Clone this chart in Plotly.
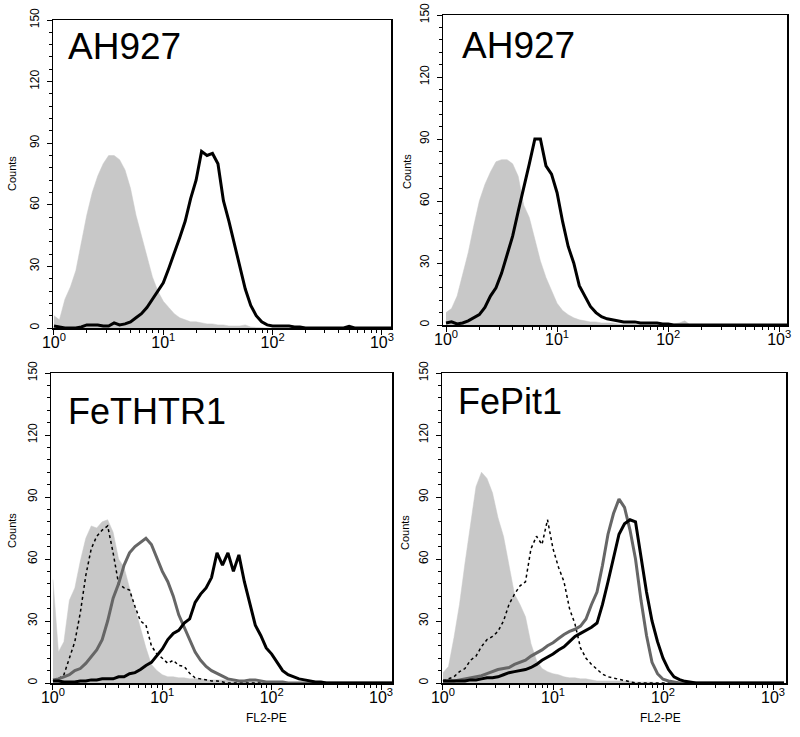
import plotly.graph_objects as go

# ---------------- data (log10 fluorescence channel vs. counts) ----------------
log_channel = [0.00, 0.05, 0.10, 0.15, 0.20, 0.25, 0.30, 0.35, 0.40, 0.45,
               0.50, 0.55, 0.60, 0.65, 0.70, 0.75, 0.80, 0.85, 0.90, 0.95,
               1.00, 1.05, 1.10, 1.15, 1.20, 1.25, 1.30, 1.35, 1.40, 1.45,
               1.50, 1.55, 1.60, 1.65, 1.70, 1.75, 1.80, 1.85, 1.90, 1.95,
               2.00, 2.05, 2.10, 2.15, 2.20, 2.25, 2.30, 2.35, 2.40, 2.45,
               2.50, 2.55, 2.60, 2.65, 2.70, 2.75, 2.80, 2.85, 2.90, 2.95,
               3.00, 3.05, 3.10]

# Panel 1: AH927
p1_control = [6, 4, 14, 20, 28, 42, 55, 66, 74, 80, 84, 84, 82, 77, 68, 55, 45, 34, 25, 18,
              13, 10, 7, 5, 4, 3, 3, 2.5, 2, 2, 1.5, 1.5, 1, 1, 1, 1.5, 0.5, 0.3, 0, 0,
              0, 0, 0, 0, 0, 0, 0, 0, 0, 0, 0, 0, 0, 0, 0, 0, 0, 0, 0, 0, 0, 0, 0]
p1_stained = [1, 0.5, 0, 0, 0, 0.5, 1.5, 1.5, 1.5, 1, 1, 2.5, 1.5, 2, 3, 5, 7, 10, 14, 18,
              22, 29, 36, 44, 52, 63, 72, 86, 84, 85, 80, 62, 52, 41, 30, 19, 11, 6, 3, 1.5,
              1, 1, 1, 1, 0.5, 0.5, 0, 0, 0, 0, 0, 0, 0, 0, 0.8, 0, 0, 0, 0, 0, 0, 0, 0]

# Panel 2: AH927
p2_control = [6, 8, 14, 24, 35, 48, 60, 68, 74, 79, 80, 80, 78, 72, 58, 52, 41, 31, 23, 17,
              10.5, 7, 5, 3.5, 2.5, 2, 1.5, 1.5, 1, 1, 1, 0.5, 0.5, 0.5, 0.5, 0.5, 0.5, 0.5, 0.5, 0.5,
              0.5, 0.5, 1, 2, 0, 0, 0, 0, 0, 0, 0, 0, 0, 0, 0, 0, 0, 0, 0, 0, 0, 0, 0]
p2_stained = [1, 1.5, 0.5, 1, 2, 3.5, 5, 8.5, 14, 18, 25, 34, 43, 55, 66, 78, 90, 90, 77, 73,
              64, 50, 38, 30, 19, 14, 9, 6, 4, 3, 2.5, 2, 1.5, 1.5, 1.5, 1, 1, 1, 1, 0.5,
              0.5, 0, 0, 0, 0, 0, 0, 0, 0, 0, 0, 0, 0, 0, 0, 0, 0, 0, 0, 0, 0, 0, 0]

# Panel 3: FeTHTR1
p3_control = [50, 15, 20, 40, 46, 59, 70, 76, 75, 78, 79, 73, 60, 56, 46, 36, 26, 17, 9, 6,
              4, 3, 3, 2.5, 2.5, 2, 2, 2, 1.5, 1.5, 1.5, 1.5, 1.5, 1, 1, 1, 1, 0.5, 0.5, 0.5,
              0, 0, 0, 0, 0, 0, 0, 0, 0, 0, 0, 0, 0, 0, 0, 0, 0, 0, 0, 0, 0, 0, 0]
p3_dotted = [1, 2, 4, 12, 20, 34, 52, 65, 71, 74, 76, 63, 48, 46, 45, 37, 30, 28, 18, 14,
             12, 9.5, 11, 8.5, 8, 4.7, 2.5, 2, 1.5, 1, 1, 0.5, 0, 0, 0, 0, 0, 0, 0, 0,
             0, 0, 0, 0, 0, 0, 0, 0, 0, 0, 0, 0, 0, 0, 0, 0, 0, 0, 0, 0, 0, 0, 0]
p3_darkgray = [1.5, 2, 3, 4, 6, 7, 9.5, 13, 16, 21, 30, 41, 48, 57, 63, 66, 68, 70, 67, 60,
               54, 49, 42, 33, 27, 21, 15, 11, 8, 6, 4.7, 3.1, 2, 1.5, 1, 1, 1.5, 1.5, 1, 0.5,
               0.5, 0.5, 0.5, 0, 0, 0, 0, 0, 0, 0, 0, 0, 0, 0, 0, 0, 0, 0, 0, 0, 0, 0, 0]
p3_black = [1, 1, 0.5, 0.5, 0.5, 1, 1, 1.5, 1.5, 2, 2, 2, 3, 3, 4.5, 5, 6.5, 8.5, 10, 13,
            16.5, 21, 24, 25.5, 29, 31, 39, 43, 46, 51, 63, 57, 63, 54, 62, 49, 38, 28, 23, 17,
            14, 10, 6, 4, 3, 2, 1.5, 1, 0.5, 0.5, 0, 0, 0, 0, 0, 0, 0, 0, 0, 0, 0, 0, 0]

# Panel 4: FePit1
p4_control = [5, 8, 22, 38, 58, 77, 95, 102, 99, 92, 80, 71, 56, 43, 38, 32, 19, 11, 7, 5.5,
              4.5, 4, 3, 2.5, 2.5, 2, 2, 1.5, 1, 1, 1, 1, 1, 1, 1, 0.5, 0.5, 0.5, 0.5, 0,
              0, 0, 0, 0, 0, 0, 0, 0, 0, 0, 0, 0, 0, 0, 0, 0, 0, 0, 0, 0, 0, 0, 0]
p4_dotted = [1, 2, 3, 5.5, 7, 11, 13, 17.6, 21, 22.5, 25, 30, 38, 43, 47, 49, 65, 71, 67, 79,
             65, 56, 49, 36, 28.5, 17, 12, 9, 6.4, 4.3, 3, 2.4, 1.8, 1.2, 0.5, 0, 0, 0, 0, 0,
             0, 0, 0, 0, 0, 0, 0, 0, 0, 0, 0, 0, 0, 0, 0, 0, 0, 0, 0, 0, 0, 0, 0]
p4_darkgray = [1, 1, 1, 1.5, 2, 2.5, 3, 3.5, 4.5, 5.5, 6.5, 7, 7.5, 9, 10, 11, 13, 14.5, 16, 18,
               19.5, 21.5, 23.5, 25, 26, 27.5, 31, 38, 44, 57, 72, 82, 89, 85, 74, 60, 40, 23, 10, 4.5,
               1.8, 1, 0.5, 0, 0, 0, 0, 0, 0, 0, 0, 0, 0, 0, 0, 0, 0, 0, 0, 0, 0, 0, 0]
p4_black = [1, 1, 1, 1, 1, 1.5, 1.5, 2, 2.5, 2.5, 3, 4, 5, 5.5, 6, 6.5, 7.5, 9, 11, 12.5,
            14, 16, 17.5, 20, 22.5, 24, 25.5, 27, 29, 38, 49, 61, 72, 77, 79, 78, 61, 44, 30, 20,
            12, 6.5, 3, 1.6, 0.8, 0.3, 0, 0, 0, 0, 0, 0, 0, 0, 0, 0, 0, 0, 0, 0, 0, 0, 0]

panel_titles = ["AH927", "AH927", "FeTHTR1", "FePit1"]
y_tick_values = [0, 30, 60, 90, 120, 150]
x_tick_values = [1, 10, 100, 1000]
x_tick_text = ["10<sup>0</sup>", "10<sup>1</sup>", "10<sup>2</sup>", "10<sup>3</sup>"]
x_minor_values = [m * d for d in (1, 10, 100) for m in range(2, 10)]

# ---------------- figure ----------------
W, H = 800, 737
FONT = "Liberation Sans, Arial, sans-serif"
GRAY_FILL = "#c8c8c8"
DARK_GRAY = "#666666"


def fx(px):
    return px / W


def fy(py):
    return 1 - py / H


intensity = [10 ** v for v in log_channel]

# panel geometry in page pixels: (left, right, top, bottom, log-range)
panels = [
    (53, 391, 20, 328, [-0.009, 3.083]),
    (443, 787, 15, 325, [-0.027, 3.07]),
    (51, 392, 373, 683, [-0.018, 3.10]),
    (442, 786, 373, 683, [-0.009, 3.118]),
]

series = [
    [("fill", p1_control), ("black", p1_stained)],
    [("fill", p2_control), ("black", p2_stained)],
    [("fill", p3_control), ("dot", p3_dotted), ("dark", p3_darkgray), ("black", p3_black)],
    [("fill", p4_control), ("dot", p4_dotted), ("dark", p4_darkgray), ("black", p4_black)],
]

fig = go.Figure()
layout = {}
for i, (geom, tr_list) in enumerate(zip(panels, series), start=1):
    l, r, t, b, xr = geom
    xa = "x" if i == 1 else f"x{i}"
    ya = "y" if i == 1 else f"y{i}"
    for kind, vals in tr_list:
        if kind == "fill":
            fig.add_trace(go.Scatter(x=intensity, y=vals, xaxis=xa, yaxis=ya, mode="lines",
                                     fill="tozeroy", fillcolor=GRAY_FILL,
                                     line=dict(color=GRAY_FILL, width=0.5), showlegend=False))
        elif kind == "dot":
            fig.add_trace(go.Scatter(x=intensity, y=vals, xaxis=xa, yaxis=ya, mode="lines",
                                     line=dict(color="black", width=1.5, dash="dot"),
                                     showlegend=False))
        elif kind == "dark":
            fig.add_trace(go.Scatter(x=intensity, y=vals, xaxis=xa, yaxis=ya, mode="lines",
                                     line=dict(color=DARK_GRAY, width=3), showlegend=False))
        else:
            fig.add_trace(go.Scatter(x=intensity, y=vals, xaxis=xa, yaxis=ya, mode="lines",
                                     line=dict(color="black", width=3), showlegend=False))

    xkey = "xaxis" if i == 1 else f"xaxis{i}"
    ykey = "yaxis" if i == 1 else f"yaxis{i}"
    layout[xkey] = dict(
        domain=[fx(l), fx(r)], anchor=ya, type="log", range=xr, automargin=False,
        tickvals=x_tick_values, ticktext=x_tick_text, ticks="outside", ticklen=5,
        tickwidth=1, tickcolor="black", ticklabelstandoff=-6, ticklabeloverflow="allow",
        minor=dict(tickvals=x_minor_values, ticks="outside", ticklen=3, tickcolor="black",
                   tickwidth=1, showgrid=False),
        showline=True, linecolor="black", linewidth=1.5, mirror=True,
        showgrid=False, zeroline=False,
        tickfont=dict(family=FONT, size=16, color="black"),
    )
    layout[ykey] = dict(
        domain=[fy(b), fy(t)], anchor=xa, range=[0, 150], automargin=False,
        tickvals=y_tick_values, ticks="outside", ticklen=5, tickwidth=1, tickcolor="black",
        ticklabelstandoff=3, ticklabeloverflow="allow",
        minor=dict(dtick=6, tick0=0, ticks="outside", ticklen=3, tickcolor="black",
                   tickwidth=1, showgrid=False),
        tickangle=-90, showline=True, linecolor="black", linewidth=1.5, mirror=True,
        showgrid=False, zeroline=False,
        tickfont=dict(family=FONT, size=12, color="black"),
    )

annotations = []
title_pos = [(66, 46, 37), (460, 45, 37), (66, 411, 36), (456, 401, 36)]
for txt, (px, py, fs) in zip(panel_titles, title_pos):
    annotations.append(dict(text=txt, x=fx(px), y=fy(py), xref="paper", yref="paper",
                            xanchor="left", yanchor="middle", showarrow=False,
                            font=dict(family=FONT, size=fs, color="black")))
for px, py in [(12, 174), (407, 172), (12, 531), (405, 533)]:
    annotations.append(dict(text="Counts", x=fx(px), y=fy(py), xref="paper", yref="paper",
                            xanchor="center", yanchor="middle", textangle=-90, showarrow=False,
                            font=dict(family=FONT, size=11, color="black")))
for px, py in [(266, 718), (660, 718)]:
    annotations.append(dict(text="FL2-PE", x=fx(px), y=fy(py), xref="paper", yref="paper",
                            xanchor="center", yanchor="middle", showarrow=False,
                            font=dict(family=FONT, size=12, color="black")))

fig.update_layout(
    width=W, height=H, margin=dict(l=0, r=0, t=0, b=0),
    paper_bgcolor="white", plot_bgcolor="white", showlegend=False,
    annotations=annotations, **layout,
)

# remove the browser's default page margin so the 800x737 figure fills the window exactly
fig.write_html("out.html",
               config={"displayModeBar": False, "staticPlot": True},
               post_script="document.body.style.margin='0';"
                           "document.body.style.overflow='hidden';")
